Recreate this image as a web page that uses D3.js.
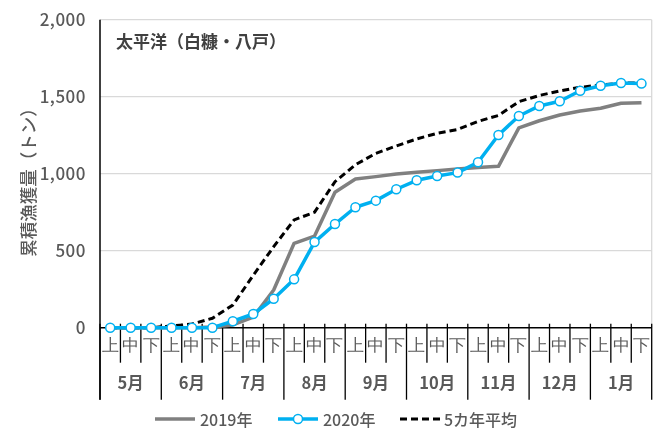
<!DOCTYPE html>
<html><head><meta charset="utf-8">
<script src="https://cdn.jsdelivr.net/npm/d3@7/dist/d3.min.js"></script>
<style>
body{margin:0;background:#fff;}
svg{display:block;font-family:"Noto Sans CJK JP","Noto Sans",sans-serif;will-change:transform;}
</style></head>
<body><svg id="c" width="653" height="430"></svg>
<script>
const months = ["5月","6月","7月","8月","9月","10月","11月","12月","1月"];
const periods = ["上","中","下"];
const yTicks = [0,500,1000,1500,2000];
const series2019 = [0,0,0,0,0,5,18,68,245,548,595,880,965,981,998,1009,1020,1030,1041,1048,1298,1344,1381,1407,1425,1457,1461];
const series2020 = [0,0,0,0,0,0,42,89,188,314,556,673,782,825,899,957,985,1007,1074,1251,1375,1440,1470,1539,1571,1589,1585];
const avg5 = [0,0,0,11,24,61,147,340,526,700,750,948,1058,1132,1180,1226,1262,1287,1340,1378,1468,1508,1537,1561,1576,1587,1591];
const legendNames = ["2019年","2020年","5カ年平均"];
const chartTitle = "太平洋（白糠・八戸）";
const yTitle = "累積漁獲量（トン）";

const cats = [];
months.forEach((m,mi)=>periods.forEach((p,pi)=>cats.push(mi*3+pi)));

const svg = d3.select("#c");
const L=100, R=651.7, T=19.7, B=327.7;
const x = d3.scaleBand().domain(cats).range([L,R]).padding(0);
const y = d3.scaleLinear().domain([0,2000]).range([B,T]);
const cx = i => x(i)+x.bandwidth()/2;
const txt = "#595959";

// gridlines
svg.append("g").selectAll("line").data(yTicks.filter(d=>d>0)).join("line")
  .attr("x1",L).attr("x2",R).attr("y1",d=>y(d)).attr("y2",d=>y(d))
  .attr("stroke","#d9d9d9").attr("stroke-width",1.3);
svg.append("line").attr("x1",R).attr("x2",R).attr("y1",T).attr("y2",B)
  .attr("stroke","#d9d9d9").attr("stroke-width",1.3);

// y axis
const yAxis = d3.axisLeft(y).tickValues(yTicks).tickSize(0).tickPadding(14)
  .tickFormat(d3.format(","));
const ya = svg.append("g").attr("transform",`translate(${L},0)`).call(yAxis);
ya.select(".domain").remove();
ya.selectAll("text").attr("fill",txt).attr("font-size",17).attr("font-weight",500)
  .attr("font-family","'Noto Sans CJK JP',sans-serif").attr("letter-spacing","0.5px");
svg.append("line").attr("x1",L).attr("x2",L).attr("y1",T).attr("y2",B+72)
  .attr("stroke","#000").attr("stroke-width",1.5);

// x axis: period labels via axis
const xAxis = d3.axisBottom(x).tickSize(0).tickPadding(12).tickFormat(i=>periods[i%3]);
const xa = svg.append("g").attr("transform",`translate(0,${B})`).call(xAxis);
xa.select(".domain").remove();
xa.selectAll("text").attr("fill",txt).attr("font-size",16.5).attr("font-weight",500);
svg.append("line").attr("x1",L).attr("x2",R).attr("y1",B).attr("y2",B)
  .attr("stroke","#000").attr("stroke-width",1.5);
// boundary ticks
const bounds = d3.range(cats.length+1);
svg.append("g").selectAll("line").data(bounds).join("line")
  .attr("x1",i=> i<cats.length ? x(i) : R).attr("x2",i=> i<cats.length ? x(i) : R)
  .attr("y1",B-4).attr("y2",i=> i%3===0 ? B+72 : B+35)
  .attr("stroke","#000").attr("stroke-width",1.3);
// month labels
svg.append("g").selectAll("text").data(months).join("text")
  .attr("x",(d,i)=> (x(i*3)+ (i*3+3<cats.length? x(i*3+3):R))/2)
  .attr("y",B+61).attr("text-anchor","middle").attr("fill",txt)
  .attr("font-size",16.5).attr("font-weight",700).text(d=>d);

// lines
const line = d3.line().x((d,i)=>cx(i)).y(d=>y(d));
svg.append("path").datum(series2019).attr("d",line).attr("fill","none")
  .attr("stroke","#808080").attr("stroke-width",3.5).attr("stroke-linejoin","round");
svg.append("path").datum(avg5).attr("d",line).attr("fill","none")
  .attr("stroke","#000").attr("stroke-width",3).attr("stroke-dasharray","7,4");
svg.append("path").datum(series2020).attr("d",line).attr("fill","none")
  .attr("stroke","#00b0f0").attr("stroke-width",3.5).attr("stroke-linejoin","round");
svg.append("g").selectAll("circle").data(series2020).join("circle")
  .attr("cx",(d,i)=>cx(i)).attr("cy",d=>y(d)).attr("r",4.5)
  .attr("fill","#fff").attr("stroke","#00b0f0").attr("stroke-width",1.5);

// title
svg.append("text").attr("x",116).attr("y",48).attr("fill","#404040")
  .attr("font-size",17).attr("font-weight",700).text(chartTitle);
// y title
svg.append("text").attr("transform","translate(35,178) rotate(-90)")
  .attr("text-anchor","middle").attr("fill",txt).attr("font-size",17.5).attr("font-weight",500).text(yTitle);

// legend
const ly = 419;
const lg = svg.append("g");
lg.append("line").attr("x1",155).attr("x2",195).attr("y1",ly).attr("y2",ly).attr("stroke","#808080").attr("stroke-width",3.5);
lg.append("text").attr("x",200).attr("y",ly).attr("dominant-baseline","central").attr("fill",txt).attr("font-size",16).attr("font-weight",500).text(legendNames[0]);
lg.append("line").attr("x1",278).attr("x2",318).attr("y1",ly).attr("y2",ly).attr("stroke","#00b0f0").attr("stroke-width",3.5);
lg.append("circle").attr("cx",298).attr("cy",ly).attr("r",4.5).attr("fill","#fff").attr("stroke","#00b0f0").attr("stroke-width",1.5);
lg.append("text").attr("x",323).attr("y",ly).attr("dominant-baseline","central").attr("fill",txt).attr("font-size",16).attr("font-weight",500).text(legendNames[1]);
lg.append("line").attr("x1",400).attr("x2",440).attr("y1",ly).attr("y2",ly).attr("stroke","#000").attr("stroke-width",3).attr("stroke-dasharray","7,4");
lg.append("text").attr("x",444).attr("y",ly).attr("dominant-baseline","central").attr("fill",txt).attr("font-size",16).attr("font-weight",500).text(legendNames[2]);
</script></body></html>
